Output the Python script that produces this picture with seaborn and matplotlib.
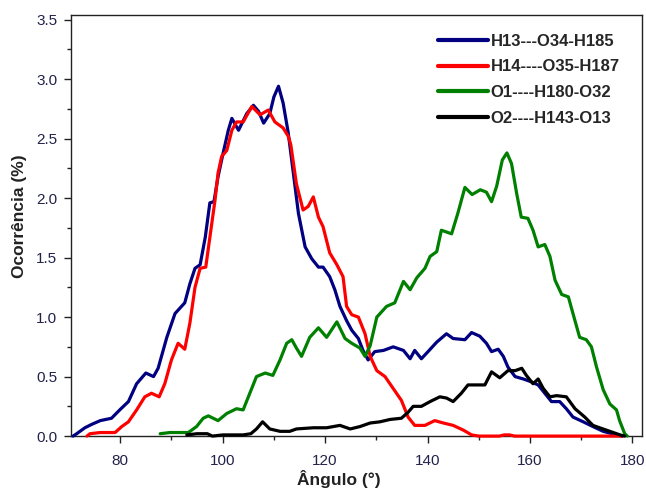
import numpy as np
import pandas as pd
import matplotlib
matplotlib.use("Agg")
import matplotlib.pyplot as plt
import seaborn as sns

series_names = ["H13---O34-H185", "H14----O35-H187", "O1----H180-O32", "O2----H143-O13"]
series_colors = ["#000080", "#ff0000", "#008000", "#000000"]

blue_x = [70.8, 71.5, 73.1, 74.5, 76.1, 78.3, 79.9, 81.6, 83.2, 85.0, 86.5, 87.4, 89.1, 90.7, 92.6, 93.6,
          94.6, 95.6, 96.6, 97.5, 98.3, 99.1, 100.1, 101.1, 101.8, 103.1, 104.7, 106.0, 107.0, 108.0, 109.2,
          110.0, 110.9, 111.8, 112.8, 113.8, 114.8, 116.1, 117.4, 118.7, 119.6, 120.9, 121.9, 122.9, 124.2,
          125.2, 126.5, 127.4, 128.4, 129.7, 131.4, 133.3, 135.3, 136.6, 137.5, 138.8, 140.1, 141.8, 143.7,
          145.0, 147.3, 148.6, 150.2, 151.5, 152.5, 153.8, 154.8, 155.7, 157.1, 158.7, 160.0, 161.6, 162.9,
          164.2, 165.8, 167.1, 168.4, 170.4, 172.3, 174.3, 176.9, 178.0]
blue_y = [0.00, 0.02, 0.07, 0.10, 0.13, 0.15, 0.22, 0.29, 0.44, 0.53, 0.50, 0.57, 0.83, 1.03, 1.12, 1.28,
          1.41, 1.44, 1.67, 1.96, 1.97, 2.18, 2.38, 2.57, 2.67, 2.57, 2.71, 2.78, 2.73, 2.63, 2.71,
          2.85, 2.94, 2.80, 2.55, 2.21, 1.87, 1.59, 1.49, 1.42, 1.42, 1.34, 1.23, 1.09, 0.97,
          0.89, 0.82, 0.72, 0.64, 0.71, 0.72, 0.75, 0.72, 0.65, 0.72, 0.65, 0.71, 0.79, 0.86,
          0.82, 0.81, 0.87, 0.84, 0.78, 0.71, 0.73, 0.67, 0.58, 0.50, 0.48, 0.46, 0.43, 0.36,
          0.29, 0.29, 0.23, 0.16, 0.12, 0.08, 0.04, 0.01, 0.00]

red_x = [73.5, 74.1, 76.1, 79.0, 80.3, 81.6, 83.2, 84.8, 86.1, 87.6, 88.7, 90.0, 91.3, 92.6, 93.6, 94.6,
         95.6, 96.7, 97.5, 98.5, 99.1, 99.8, 100.8, 101.8, 102.7, 104.0, 105.7, 107.3, 108.9, 110.2, 111.8,
         112.8, 113.3, 114.4, 115.7, 116.7, 117.7, 118.7, 119.6, 120.9, 122.3, 123.5, 124.2, 125.2, 126.5,
         127.8, 128.8, 130.1, 131.7, 133.3, 134.9, 136.2, 137.5, 139.5, 141.4, 143.1, 145.0, 147.0, 148.6,
         150.0, 154.0, 155.0, 156.0, 157.0, 178.0]
red_y = [0.00, 0.02, 0.03, 0.03, 0.08, 0.12, 0.22, 0.33, 0.36, 0.33, 0.44, 0.64, 0.78, 0.73, 0.95, 1.25,
         1.41, 1.42, 1.67, 1.98, 2.21, 2.35, 2.40, 2.57, 2.64, 2.64, 2.77, 2.70, 2.74, 2.64, 2.59,
         2.52, 2.45, 2.12, 1.90, 1.93, 2.01, 1.84, 1.76, 1.54, 1.44, 1.34, 1.09, 1.02, 1.00,
         0.86, 0.67, 0.55, 0.50, 0.40, 0.30, 0.16, 0.09, 0.09, 0.13, 0.11, 0.09, 0.05, 0.01,
         0.00, 0.00, 0.01, 0.01, 0.00, 0.00]

green_x = [87.8, 89.7, 93.3, 94.9, 96.2, 97.2, 99.1, 100.8, 102.7, 104.0, 105.3, 106.6, 108.3, 109.8, 111.2,
           112.5, 113.5, 114.4, 115.4, 117.0, 118.7, 120.3, 122.3, 123.9, 125.2, 126.8, 127.8, 128.8, 130.1,
           132.0, 133.6, 135.3, 136.6, 137.9, 139.5, 140.5, 141.8, 142.7, 144.7, 145.9, 147.3, 148.7, 150.3,
           151.5, 152.5, 153.5, 154.6, 155.5, 156.4, 157.4, 158.3, 159.6, 160.6, 161.6, 162.9, 163.9, 164.9,
           166.2, 167.5, 168.4, 169.7, 171.0, 172.0, 173.0, 174.3, 175.6, 176.9, 177.5, 178.5, 179.0]
green_y = [0.02, 0.03, 0.03, 0.08, 0.15, 0.17, 0.13, 0.19, 0.23, 0.22, 0.36, 0.50, 0.53, 0.51, 0.64,
           0.78, 0.81, 0.74, 0.67, 0.83, 0.91, 0.83, 0.96, 0.82, 0.78, 0.74, 0.67, 0.76, 1.00,
           1.09, 1.12, 1.30, 1.23, 1.33, 1.41, 1.51, 1.55, 1.73, 1.70, 1.87, 2.09, 2.03, 2.07,
           2.05, 1.97, 2.10, 2.32, 2.38, 2.29, 2.04, 1.84, 1.83, 1.73, 1.59, 1.61, 1.51, 1.31,
           1.19, 1.17, 1.03, 0.83, 0.81, 0.75, 0.58, 0.39, 0.27, 0.22, 0.13, 0.02, 0.00]

black_x = [93.0, 95.0, 97.0, 98.0, 100.0, 104.0, 105.5, 106.6, 107.8, 109.2, 111.2, 113.1, 114.4, 117.7, 120.3,
           122.9, 124.9, 126.8, 128.8, 130.7, 132.7, 134.9, 136.2, 137.2, 138.8, 140.5, 142.4, 143.7, 145.0,
           146.6, 147.9, 151.2, 152.5, 154.1, 155.7, 157.1, 158.4, 159.3, 160.6, 161.6, 162.6, 163.9, 165.2,
           167.1, 168.8, 170.7, 172.3, 173.6, 175.6, 177.6, 178.5]
black_y = [0.01, 0.02, 0.02, 0.00, 0.01, 0.01, 0.02, 0.06, 0.12, 0.06, 0.04, 0.04, 0.06, 0.07, 0.07,
           0.09, 0.06, 0.08, 0.11, 0.12, 0.14, 0.15, 0.20, 0.25, 0.25, 0.29, 0.33, 0.32, 0.29,
           0.36, 0.43, 0.43, 0.54, 0.49, 0.55, 0.55, 0.57, 0.51, 0.44, 0.48, 0.40, 0.33, 0.34,
           0.33, 0.23, 0.16, 0.09, 0.07, 0.04, 0.01, 0.00]

x_ticks = [80, 100, 120, 140, 160, 180]
y_ticks = [0.0, 0.5, 1.0, 1.5, 2.0, 2.5, 3.0, 3.5]

frames = []
for name, xs, ys in zip(series_names, [blue_x, red_x, green_x, black_x], [blue_y, red_y, green_y, black_y]):
    frames.append(pd.DataFrame({"angle": xs, "occ": ys, "series": name}))
df = pd.concat(frames, ignore_index=True)

sns.set_theme(style="ticks")
plt.rcParams["font.family"] = ["Liberation Sans", "DejaVu Sans"]

fig = plt.figure(figsize=(6.46, 4.95), dpi=100)
ax = fig.add_axes([0.110, 0.119, 0.884, 0.851])

sns.lineplot(data=df, x="angle", y="occ", hue="series", hue_order=series_names,
             palette=dict(zip(series_names, series_colors)), sort=False, estimator=None,
             linewidth=2.3, ax=ax)
for ln in ax.get_lines():
    ln.set_clip_on(False)
    ln.set_zorder(3)

ax.set_xlim(70.4, 181.9)
ax.set_ylim(0, 3.54)
ax.set_xticks(x_ticks)
ax.set_yticks(y_ticks)
ax.set_yticklabels([f"{v:.1f}" for v in y_ticks])
ax.set_xticks([90, 110, 130, 150, 170], minor=True)
ax.set_yticks(np.arange(0.25, 3.5, 0.5), minor=True)
ax.tick_params(axis="both", which="major", direction="out", length=5, width=1, labelsize=11,
               labelcolor="#22224a", color="#222222")
ax.tick_params(axis="x", which="major", pad=8)
ax.tick_params(axis="y", which="major", pad=5)
ax.tick_params(axis="both", which="minor", direction="out", length=3, width=1, color="#222222")
for s in ax.spines.values():
    s.set_visible(True)
    s.set_linewidth(1.0)
    s.set_color("#222222")

ax.set_xlabel("Ângulo (°)", fontsize=12.5, fontweight="bold", color="#222222")
ax.set_ylabel("Ocorrência (%)", fontsize=12.5, fontweight="bold", color="#222222")
ax.xaxis.set_label_coords(0.468, -0.080)
ax.yaxis.set_label_coords(-0.077, 0.521)

leg = ax.legend(loc="upper right", bbox_to_anchor=(0.981, 0.983), frameon=False,
                prop={"weight": "bold", "size": 12}, handlelength=3.0, handletextpad=0.15,
                labelspacing=0.64, borderaxespad=0.3)
for h in leg.get_lines():
    h.set_linewidth(3)

fig.savefig("out.png", dpi=100)
